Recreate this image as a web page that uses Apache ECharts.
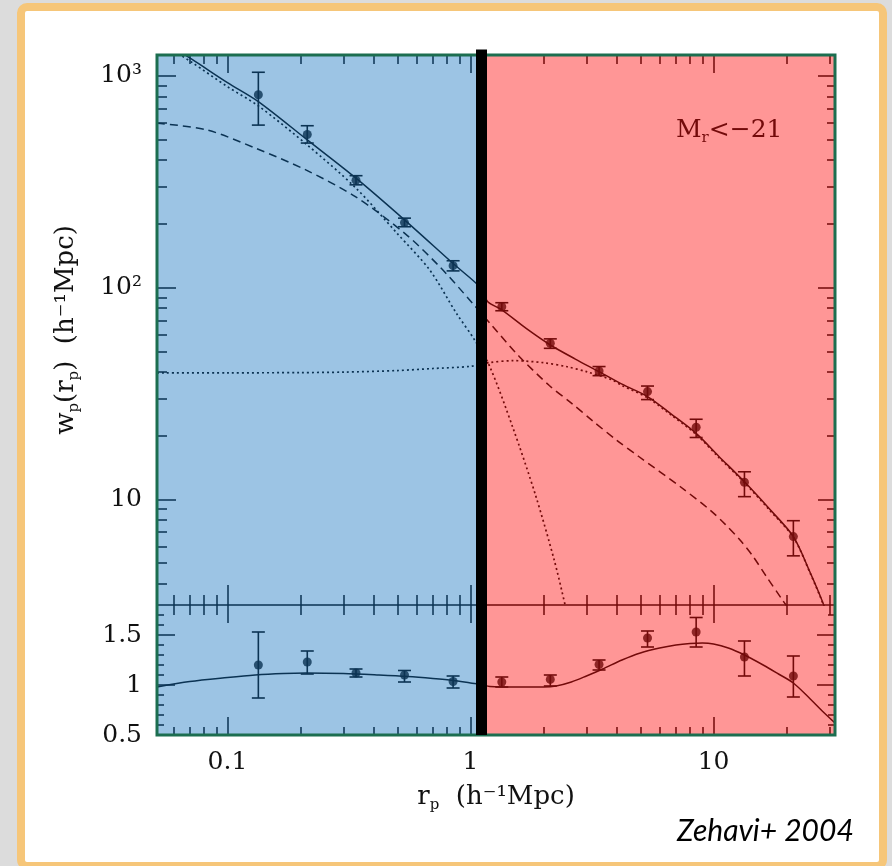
<!DOCTYPE html>
<html>
<head>
<meta charset="utf-8">
<script src="https://cdn.jsdelivr.net/npm/echarts@6/dist/echarts.min.js"></script>
<style>
  html, body { margin: 0; padding: 0; background: #dcdcdc; }
  #chart { width: 892px; height: 866px; }
</style>
</head>
<body>
<div id="chart"></div>
<script>
// Projected correlation function w_p(r_p) of M_r < -21 galaxies, with the halo-model fit
// (total, one-halo, two-halo and dark-matter terms) and the data/model ratio below.

// Separation bins (h^-1 Mpc) and measured w_p with error-bar ends
const R_BINS  = [0.134, 0.213, 0.338, 0.535, 0.848, 1.345, 2.13, 3.38, 5.35, 8.48, 13.4, 21.3];
const WP_OBS  = [815, 529, 322, 203, 127, 81.3, 54.6, 40.4, 32.3, 21.9, 12.05, 6.67];
const WP_LO   = [586, 482, 306, 194, 120, 77.8, 51.7, 38.4, 29.6, 19.6, 10.3, 5.41];
const WP_HI   = [1041, 582, 338, 213, 134, 84.9, 57.3, 42.4, 34.3, 23.9, 13.5, 7.93];

// Ratio panel values with error-bar ends
const RATIO_OBS = [1.20, 1.23, 1.12, 1.10, 1.035, 1.03, 1.056, 1.205, 1.47, 1.53, 1.28, 1.09];
const RATIO_LO  = [0.87, 1.11, 1.08, 1.03, 0.97, 0.98, 0.99, 1.15, 1.38, 1.38, 1.09, 0.88];
const RATIO_HI  = [1.53, 1.34, 1.16, 1.145, 1.09, 1.08, 1.10, 1.25, 1.54, 1.675, 1.44, 1.29];

// Halo-model curves
const TOTAL_R   = [0.0513, 0.0713, 0.1, 0.134, 0.213, 0.338, 0.535, 0.848, 1.11, 1.175, 1.345, 1.7, 2.13, 2.7, 3.38, 4.2, 5.35, 6.7, 8.48, 10.5, 13.4, 17, 21.3, 25, 28.4, 31.6];
const TOTAL_WP  = [1520, 1200, 930, 757, 499, 329, 209, 130, 99, 86, 78.5, 64, 53.6, 46, 40.1, 35, 30.6, 25.3, 20.5, 16, 12.1, 9.0, 6.67, 4.5, 3.17, 2.2];

const ONEHALO_R  = [0.0513, 0.0713, 0.1, 0.134, 0.213, 0.338, 0.5, 0.68, 0.873, 1.04, 1.2, 1.49, 1.85, 2.21, 2.45, 2.6];
const ONEHALO_WP = [1480, 1160, 890, 722, 472, 295, 180, 121, 76, 56.6, 42.4, 22, 10.5, 5.17, 3.17, 2.3];

const TWOHALO_R  = [0.0513, 0.1, 0.2, 0.3, 0.5, 0.7, 1.0, 1.2, 1.5, 2.0, 2.5, 3.0, 3.84, 4.2, 5.35, 6.7, 8.48, 10.5, 13.4, 17, 21.3, 25, 28.4, 31.6];
const TWOHALO_WP = [39.6, 39.6, 39.7, 39.9, 40.6, 41.5, 42.5, 44.3, 45.2, 44.2, 42.3, 40.1, 36.6, 34.5, 30.2, 25.0, 20.3, 15.8, 12.0, 8.9, 6.62, 4.47, 3.15, 2.2];

const DM_R  = [0.0513, 0.0822, 0.131, 0.21, 0.336, 0.538, 0.745, 1.02, 1.235, 1.59, 2.11, 2.6, 3.18, 4.0, 4.94, 7.28, 9.68, 11.2, 12.85, 14.5, 16.5, 19.2, 21];
const DM_WP = [598, 556, 455, 360, 269, 180, 126, 84.4, 65.5, 47.2, 34.5, 28.5, 23.5, 19.0, 15.9, 11.5, 8.9, 7.6, 6.43, 5.4, 4.32, 3.35, 2.9];

const RATIO_MODEL_R = [0.0513, 0.07, 0.1, 0.13, 0.17, 0.21, 0.3, 0.42, 0.55, 0.7, 0.85, 1.0, 1.11, 1.2, 1.6, 2.0, 2.25, 2.6, 3.0, 3.5, 4.2, 5.0, 6.0, 7.0, 8.0, 9.0, 10.0, 11.5, 13.4, 16.0, 18.5, 21.3, 25.0, 28.0, 31.6];
const RATIO_MODEL   = [0.98, 1.035, 1.075, 1.10, 1.115, 1.12, 1.115, 1.10, 1.085, 1.065, 1.045, 1.02, 1.005, 0.985, 0.98, 0.98, 0.99, 1.03, 1.09, 1.16, 1.25, 1.32, 1.37, 1.40, 1.415, 1.42, 1.41, 1.37, 1.30, 1.20, 1.11, 1.02, 0.86, 0.74, 0.62];

// Axis ranges, ticks and tick labels
const X_MIN = 0.0513, X_MAX = 31.6;
const WP_MIN = 3.17, WP_MAX = 1256;
const RATIO_MIN = 0.5, RATIO_MAX = 1.8;
const DIVIDER_R = 1.11;

const X_MINOR_TICKS = [0.06, 0.07, 0.08, 0.09, 0.2, 0.3, 0.4, 0.5, 0.6, 0.7, 0.8, 0.9, 2, 3, 4, 5, 6, 7, 8, 9, 20, 30];
const X_MAJOR_TICKS = [0.1, 1, 10];
const X_TICK_LABELS = ['0.1', '1', '10'];
const WP_MINOR_TICKS = [4, 5, 6, 7, 8, 9, 20, 30, 40, 50, 60, 70, 80, 90, 200, 300, 400, 500, 600, 700, 800, 900];
const WP_MAJOR_TICKS = [10, 100, 1000];
const WP_TICK_LABELS = ['10', '10²', '10³'];
const RATIO_MINOR_TICKS = [0.6, 0.7, 0.8, 0.9, 1.1, 1.2, 1.3, 1.4, 1.6, 1.7];
const RATIO_MAJOR_TICKS = [0.5, 1, 1.5];
const RATIO_TICK_LABELS = ['0.5', '1', '1.5'];

// ---- styling ----
const SERIF = '"DejaVu Serif", "Liberation Serif", serif';
const INK = '#000';
const BLUE_WASH = 'rgba(25,118,192,0.43)';
const RED_WASH = 'rgba(255,22,22,0.45)';
const FRAME_GREEN = '#1c6e50';
const TICK_STYLE = { color: INK, width: 1.5 };

const zip = (xs, ys) => xs.map((x, i) => [x, ys[i]]);

function tickAxis(grid, position, type, min, max, ticks, len, extra) {
  const ax = {
    type, gridIndex: grid, position, min, max,
    axisLine: { show: false, onZero: false },
    splitLine: { show: false },
    minorTick: { show: false },
    axisTick: { show: true, inside: true, length: len, customValues: ticks, lineStyle: TICK_STYLE },
    axisLabel: { show: false },
    silent: true
  };
  return Object.assign(ax, extra || {});
}

const SUBRICH = {
  t: { fontFamily: SERIF, fontSize: 26, lineHeight: 32, fontWeight: 'normal', color: '#111' },
  s: { fontFamily: SERIF, fontSize: 15, lineHeight: 14, verticalAlign: 'bottom', fontWeight: 'normal', color: '#111' }
};

const xAxes = [
  // grid 0 (w_p panel)
  tickAxis(0, 'bottom', 'log', X_MIN, X_MAX, X_MINOR_TICKS, 10,
    { axisLine: { show: true, onZero: false, lineStyle: { color: INK, width: 1.5 } } }),
  tickAxis(0, 'bottom', 'log', X_MIN, X_MAX, X_MAJOR_TICKS, 20),
  tickAxis(0, 'top', 'log', X_MIN, X_MAX, X_MINOR_TICKS, 9),
  tickAxis(0, 'top', 'log', X_MIN, X_MAX, X_MAJOR_TICKS, 18),
  // grid 1 (ratio panel)
  tickAxis(1, 'bottom', 'log', X_MIN, X_MAX, X_MINOR_TICKS, 8),
  tickAxis(1, 'bottom', 'log', X_MIN, X_MAX, X_MAJOR_TICKS, 18, {
    axisLabel: {
      show: true, customValues: X_MAJOR_TICKS, margin: 15,
      fontFamily: SERIF, fontSize: 25, color: '#111',
      formatter: v => X_TICK_LABELS[Math.round(Math.log10(v)) + 1]
    },
    name: '{t|r}{s|p}{t|  (h⁻¹Mpc)}',
    nameLocation: 'middle', nameGap: 46,
    nameTextStyle: { rich: SUBRICH }
  }),
  tickAxis(1, 'top', 'log', X_MIN, X_MAX, X_MINOR_TICKS, 10),
  tickAxis(1, 'top', 'log', X_MIN, X_MAX, X_MAJOR_TICKS, 18)
];

const yAxes = [
  // grid 0
  tickAxis(0, 'left', 'log', WP_MIN, WP_MAX, WP_MINOR_TICKS, 10),
  tickAxis(0, 'left', 'log', WP_MIN, WP_MAX, WP_MAJOR_TICKS, 19, {
    axisLabel: {
      show: true, customValues: WP_MAJOR_TICKS, margin: 15,
      fontFamily: SERIF, fontSize: 25, color: '#111',
      formatter: v => WP_TICK_LABELS[Math.round(Math.log10(v)) - 1]
    },
    name: '{t|w}{s|p}{t|(r}{s|p}{t|)  (h⁻¹Mpc)}',
    nameLocation: 'middle', nameRotate: 90, nameGap: 75,
    nameTextStyle: { rich: SUBRICH }
  }),
  tickAxis(0, 'right', 'log', WP_MIN, WP_MAX, WP_MINOR_TICKS, 8),
  tickAxis(0, 'right', 'log', WP_MIN, WP_MAX, WP_MAJOR_TICKS, 17),
  // grid 1
  tickAxis(1, 'left', 'value', RATIO_MIN, RATIO_MAX, RATIO_MINOR_TICKS, 7),
  tickAxis(1, 'left', 'value', RATIO_MIN, RATIO_MAX, RATIO_MAJOR_TICKS, 18, {
    axisLabel: {
      show: true, customValues: RATIO_MAJOR_TICKS, margin: 15,
      fontFamily: SERIF, fontSize: 25, color: '#111',
      formatter: v => RATIO_TICK_LABELS[RATIO_MAJOR_TICKS.findIndex(t => Math.abs(t - v) < 1e-6)]
    }
  }),
  tickAxis(1, 'right', 'value', RATIO_MIN, RATIO_MAX, RATIO_MINOR_TICKS, 7),
  tickAxis(1, 'right', 'value', RATIO_MIN, RATIO_MAX, RATIO_MAJOR_TICKS, 18)
];

function curve(grid, xs, ys, dash, width) {
  return {
    type: 'line', xAxisIndex: grid === 0 ? 0 : 4, yAxisIndex: grid === 0 ? 0 : 4,
    data: zip(xs, ys), symbol: 'none', smooth: 0.3, clip: true, silent: true,
    lineStyle: { color: INK, width: width || 1.5, type: dash || 'solid' },
    emphasis: { disabled: true }, z: 2
  };
}

function errorBars(grid, xs, lo, hi) {
  return {
    type: 'custom', xAxisIndex: grid === 0 ? 0 : 4, yAxisIndex: grid === 0 ? 0 : 4,
    data: xs.map((x, i) => [x, lo[i], hi[i]]),
    encode: { x: 0, y: [1, 2] }, silent: true, z: 3,
    renderItem: (params, api) => {
      const x = api.value(0);
      const a = api.coord([x, api.value(1)]);
      const b = api.coord([x, api.value(2)]);
      const half = 6.5;
      const st = { stroke: INK, lineWidth: 1.6 };
      return {
        type: 'group',
        children: [
          { type: 'line', shape: { x1: a[0], y1: a[1], x2: b[0], y2: b[1] }, style: st },
          { type: 'line', shape: { x1: a[0] - half, y1: a[1], x2: a[0] + half, y2: a[1] }, style: st },
          { type: 'line', shape: { x1: b[0] - half, y1: b[1], x2: b[0] + half, y2: b[1] }, style: st }
        ]
      };
    }
  };
}

function points(grid, xs, ys) {
  return {
    type: 'scatter', xAxisIndex: grid === 0 ? 0 : 4, yAxisIndex: grid === 0 ? 0 : 4,
    data: zip(xs, ys), symbol: 'circle', symbolSize: 9, silent: true, z: 4,
    itemStyle: { color: INK }, emphasis: { disabled: true }
  };
}

// colour washes over the two halves plus the black divider
function washes(grid, cap) {
  return {
    type: 'line', xAxisIndex: grid === 0 ? 0 : 4, yAxisIndex: grid === 0 ? 0 : 4,
    data: [], symbol: 'none', clip: false, silent: true,
    markArea: {
      silent: true, z: 10, label: { show: false },
      data: [
        [{ xAxis: X_MIN, itemStyle: { color: BLUE_WASH } }, { xAxis: DIVIDER_R }],
        [{ xAxis: DIVIDER_R, itemStyle: { color: RED_WASH } }, { xAxis: X_MAX }]
      ]
    },
    markLine: {
      silent: true, z: 30, symbol: 'none', label: { show: false },
      emphasis: { disabled: true },
      lineStyle: { color: '#000', width: 11, type: 'solid', cap: cap, opacity: 1 },
      data: [{ xAxis: DIVIDER_R }]
    }
  };
}

const chart = echarts.init(document.getElementById('chart'), null, { renderer: 'canvas' });
chart.setOption({
  animation: false,
  backgroundColor: '#dcdcdc',
  graphic: [{
    type: 'rect', z: -100, silent: true,
    shape: { x: 21, y: 7, width: 862, height: 859, r: 6 },
    style: { fill: '#ffffff', stroke: '#f6c679', lineWidth: 8 }
  }],
  title: [
    {
      text: '{t|M}{s|r}{t|<−21}', left: 676, top: 114, padding: 0, z: 6,
      textStyle: { fontWeight: 'normal', rich: {
        t: { fontFamily: SERIF, fontSize: 25, lineHeight: 32, fontWeight: 'normal', color: INK },
        s: { fontFamily: SERIF, fontSize: 15, lineHeight: 14, verticalAlign: 'bottom', fontWeight: 'normal', color: INK }
      } }
    },
    {
      text: 'Zehavi+ 2004', left: 677, top: 816, padding: 0,
      textStyle: { fontFamily: 'Lato, "Open Sans", sans-serif', fontStyle: 'italic', fontWeight: 'normal', fontSize: 30, color: '#000' }
    }
  ],
  grid: [
    { left: 157, top: 55, width: 678, height: 550, outerBoundsMode: 'none', containLabel: false },
    { left: 157, top: 605, width: 678, height: 130, outerBoundsMode: 'none', containLabel: false },
    { left: 157, top: 55, width: 678, height: 680, show: true, borderColor: FRAME_GREEN, borderWidth: 3,
      backgroundColor: 'transparent', z: 20, outerBoundsMode: 'none', containLabel: false }
  ],
  xAxis: xAxes,
  yAxis: yAxes,
  series: [
    curve(0, TOTAL_R, TOTAL_WP, 'solid', 1.5),
    curve(0, ONEHALO_R, ONEHALO_WP, [2, 3], 1.7),
    curve(0, TWOHALO_R, TWOHALO_WP, [2, 3], 1.7),
    curve(0, DM_R, DM_WP, [8, 5], 1.5),
    errorBars(0, R_BINS, WP_LO, WP_HI),
    points(0, R_BINS, WP_OBS),
    washes(0, 'square'),
    curve(1, RATIO_MODEL_R, RATIO_MODEL, 'solid', 1.5),
    errorBars(1, R_BINS, RATIO_LO, RATIO_HI),
    points(1, R_BINS, RATIO_OBS),
    washes(1, 'butt')
  ]
});
</script>
</body>
</html>
